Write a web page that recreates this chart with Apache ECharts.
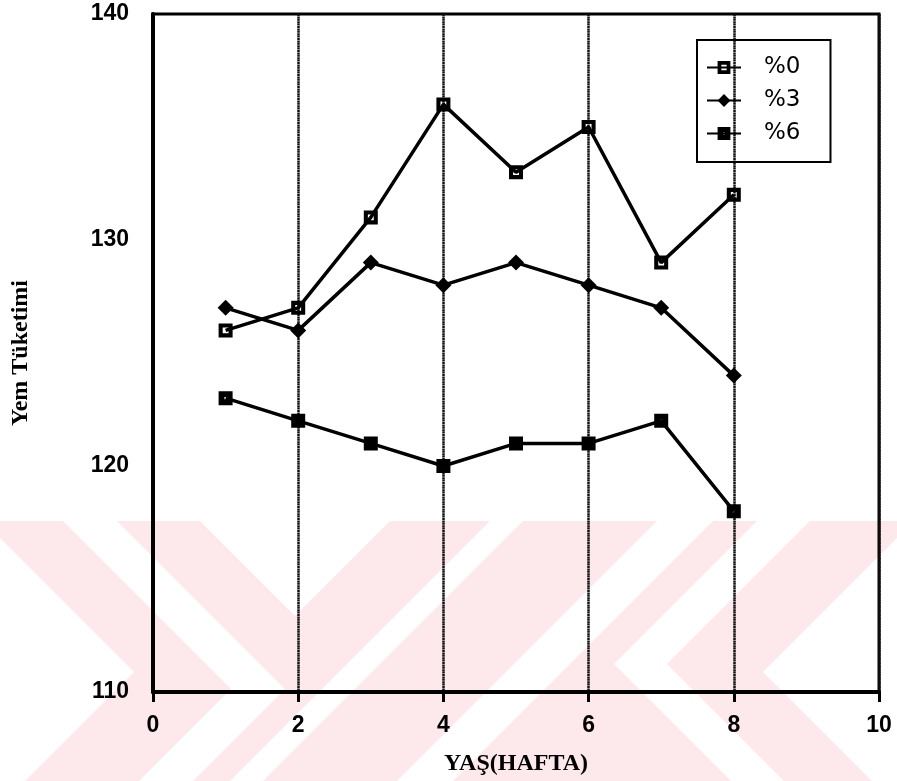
<!DOCTYPE html>
<html>
<head>
<meta charset="utf-8">
<script src="https://cdn.jsdelivr.net/npm/echarts@6/dist/echarts.min.js"></script>
<style>
  html, body { margin: 0; padding: 0; background: #fff; }
  #chart { width: 897px; height: 781px; }
</style>
</head>
<body>
<div id="chart"></div>
<script>
// Haftalık yem tüketimi, üç katkı düzeyi
const weeks = [1, 2, 3, 4, 5, 6, 7, 8];
const seriesNames = ['%0', '%3', '%6'];
const feed0 = [126, 127, 131, 136, 133, 135, 129, 132];
const feed3 = [127, 126, 129, 128, 129, 128, 127, 124];
const feed6 = [123, 122, 121, 120, 121, 121, 122, 118];

const xTitle = 'YAŞ(HAFTA)';
const yTitle = 'Yem Tüketimi';

const pairs = vals => weeks.map((w, i) => [w, vals[i]]);

// square marker with a hole (outer clockwise, inner counter-clockwise)
const squareOpen = 'path://M0,0H12V12H0Z M3.5,3.5V8.5H8.5V3.5Z';
const squareDot = 'path://M0,0H12V12H0Z M5,5V7H7V5Z';

const pink = '#fde9ec';
// background band with chevron gaps
const band = [
  { type: 'rect', shape: { x: 0, y: 521, width: 897, height: 260 } },
  { type: 'polygon', white: true, shape: { points: [[134, 672], [-200, 338], [-200, 1006]] } },
  { type: 'polygon', white: true, shape: { points: [[42, 500], [96, 500], [285, 689], [174, 800], [120, 800], [231, 689]] } },
  { type: 'polygon', white: true, shape: { points: [[179, 500], [411, 500], [295, 616]] } },
  { type: 'polygon', white: true, shape: { points: [[511, 500], [544, 500], [244, 800], [211, 800]] } },
  { type: 'polygon', white: true, shape: { points: [[678, 500], [734, 500], [434, 800], [378, 800]] } },
  { type: 'polygon', white: true, shape: { points: [[778, 500], [831, 500], [667, 664], [803, 800], [750, 800], [614, 664]] } },
  { type: 'polygon', white: true, shape: { points: [[763, 672], [1100, 335], [1100, 1009]] } }
].map((g, i) => ({
  type: g.type,
  shape: g.shape,
  silent: true,
  z: -20 + i,
  style: { fill: g.white ? '#ffffff' : pink }
}));

const tickFont = { fontFamily: 'Liberation Sans', fontWeight: 'bold', fontSize: 23, color: '#000' };
const titleFont = { fontFamily: 'Liberation Serif', fontWeight: 'bold', fontSize: 24, color: '#000' };

const lineSeries = (name, vals, symbol, size) => ({
  name: name,
  type: 'line',
  data: pairs(vals),
  symbol: symbol,
  symbolSize: size,
  symbolKeepAspect: true,
  showAllSymbol: true,
  lineStyle: { color: '#000', width: 3.5 },
  itemStyle: { color: '#000', borderWidth: 0 },
  z: 3
});

const chart = echarts.init(document.getElementById('chart'), null, { renderer: 'canvas' });
chart.setOption({
  animation: false,
  backgroundColor: '#ffffff',
  graphic: band,
  grid: {
    left: 153, right: 18, top: 14, bottom: 89,
    show: true, borderColor: '#000', borderWidth: 3, backgroundColor: 'transparent'
  },
  legend: {
    data: seriesNames,
    orient: 'vertical',
    left: 697, top: 40,
    padding: [16, 30, 17, 9],
    borderColor: '#000', borderWidth: 2,
    itemWidth: 34, itemHeight: 16, itemGap: 10,
    textStyle: { fontFamily: 'DejaVu Sans', fontSize: 23, color: '#000', padding: [0, 0, 0, 18] }
  },
  xAxis: {
    type: 'value', min: 0, max: 10, interval: 2,
    name: xTitle, nameLocation: 'middle', nameGap: 60,
    nameTextStyle: titleFont,
    axisLine: { show: true, onZero: false, lineStyle: { color: '#000', width: 4 } },
    axisTick: { show: true, inside: false, length: 10, lineStyle: { color: '#000', width: 3 } },
    axisLabel: Object.assign({ margin: 22 }, tickFont),
    splitLine: { show: true, lineStyle: { color: '#111', width: 2.5, type: [2, 0.4] } }
  },
  yAxis: {
    type: 'value', min: 110, max: 140, interval: 10,
    name: yTitle, nameLocation: 'middle', nameGap: 120, nameRotate: 90,
    nameTextStyle: titleFont,
    axisLine: { show: true, onZero: false, lineStyle: { color: '#000', width: 4 } },
    axisTick: { show: false },
    axisLabel: Object.assign({ margin: 24 }, tickFont),
    splitLine: { show: false }
  },
  series: [
    lineSeries(seriesNames[0], feed0, squareOpen, 14),
    lineSeries(seriesNames[1], feed3, 'diamond', 16),
    lineSeries(seriesNames[2], feed6, squareDot, 14)
  ]
});
</script>
</body>
</html>
